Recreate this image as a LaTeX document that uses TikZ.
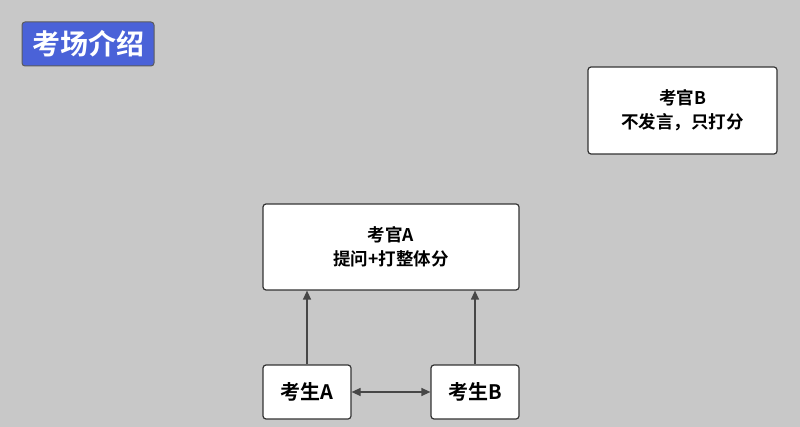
\documentclass[tikz,border=0pt]{standalone}
\usepackage{fontspec}
\newfontfamily\cjk{Noto Sans CJK SC}[BoldFont={Noto Sans CJK SC Bold}]
\usetikzlibrary{arrows.meta,positioning}
\definecolor{bggray}{HTML}{C8C8C8}
\definecolor{titleblue}{HTML}{4A62D8}
\definecolor{edgegray}{HTML}{333333}
\begin{document}
\begin{tikzpicture}[x=1pt,y=-1pt,>={Triangle[length=9pt,width=8pt]},
  box/.style={draw=edgegray,line width=1.2pt,fill=white,rounded corners=3pt,
    align=center,font=\cjk\bfseries\fontsize{17.5}{24}\selectfont,inner sep=0pt},
  link/.style={draw=edgegray!90,line width=1.2pt}]
\useasboundingbox (0,0) rectangle (800,427);
\fill[bggray] (0,0) rectangle (800,427);
% title
\node[draw=edgegray!80,line width=1pt,fill=titleblue,rounded corners=3pt,text=white,
  font=\cjk\bfseries\fontsize{28}{32}\selectfont,minimum width=132pt,minimum height=44pt]
  (title) at (88,44) {考场介绍};
% examiners
\node[box,minimum width=189pt,minimum height=87pt] (examB) at (682.5,110.5) {考官B\\不发言，只打分};
\node[box,minimum width=256pt,minimum height=86pt] (examA) at (391,247) {考官A\\提问+打整体分};
% candidates
\node[box,font=\cjk\bfseries\fontsize{20}{24}\selectfont,minimum width=88pt,minimum height=54pt] (candA) at (307,392) {考生A};
\node[box,font=\cjk\bfseries\fontsize{20}{24}\selectfont,minimum width=88pt,minimum height=54pt] (candB) at (475,392) {考生B};
\draw[link,->] (candA) -- (candA|-examA.south);
\draw[link,->] (candB) -- (candB|-examA.south);
\draw[link,<->] (candA) -- (candB);
\end{tikzpicture}
\end{document}
